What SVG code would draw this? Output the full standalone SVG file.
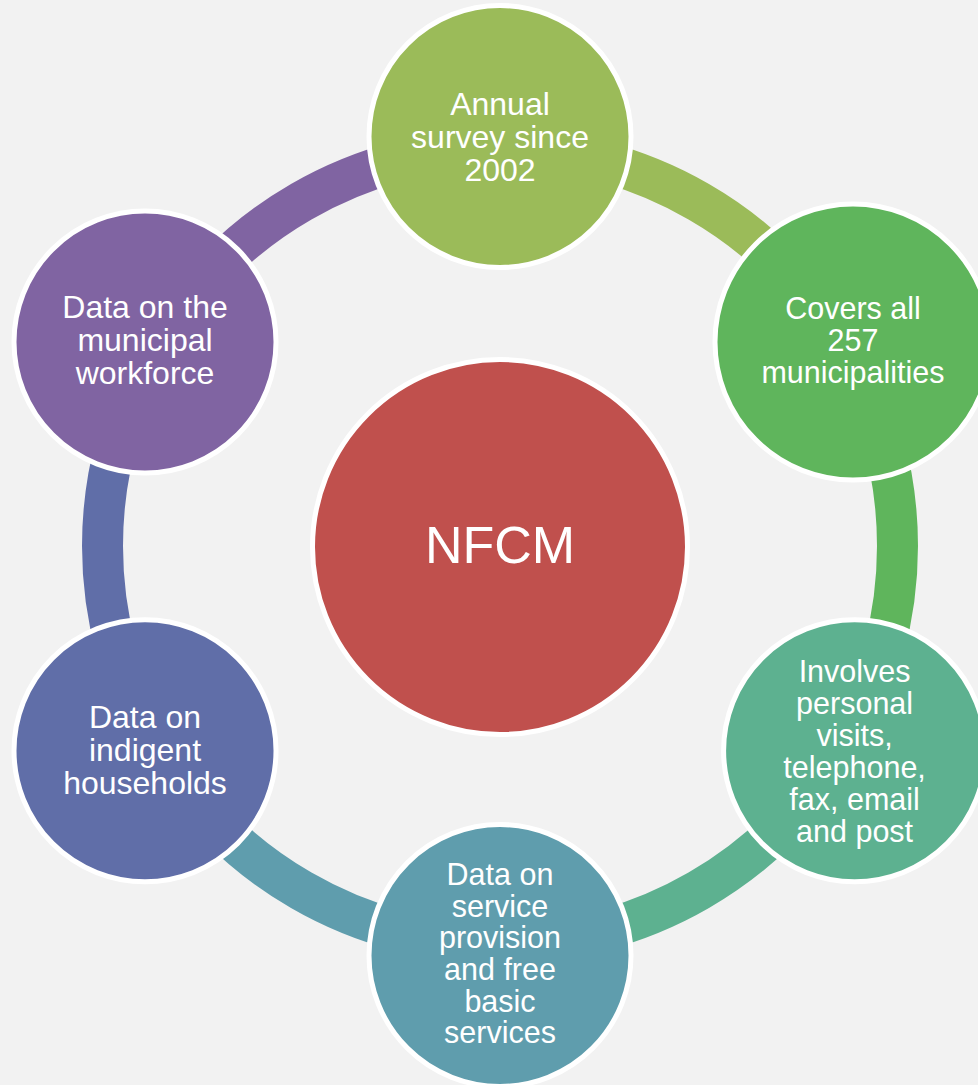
<svg xmlns="http://www.w3.org/2000/svg" width="978" height="1085" viewBox="0 0 978 1085">
<style>
.ring{fill:none;stroke-width:41;stroke-linecap:butt}
.node{stroke:#ffffff;stroke-width:5}
.lbl{fill:#ffffff;font-family:"Liberation Sans",Arial,sans-serif;font-size:30.5px;text-anchor:middle}
.lg{font-size:32px}
.big{fill:#ffffff;font-family:"Liberation Sans",Arial,sans-serif;font-size:52px;text-anchor:middle}
</style>
<rect x="0" y="0" width="978" height="1085" fill="#f2f2f2"/>
<g id="connectors">
<path class="ring" stroke="#9bbb59" d="M500 148.5 A397.5 397.5 0 0 1 844.24 347.25"/>
<path class="ring" stroke="#5fb55c" d="M844.24 347.25 A397.5 397.5 0 0 1 844.24 744.75"/>
<path class="ring" stroke="#5db190" d="M844.24 744.75 A397.5 397.5 0 0 1 500 943.5"/>
<path class="ring" stroke="#5f9dad" d="M500 943.5 A397.5 397.5 0 0 1 155.76 744.75"/>
<path class="ring" stroke="#606ea8" d="M155.76 744.75 A397.5 397.5 0 0 1 155.76 347.25"/>
<path class="ring" stroke="#8064a2" d="M155.76 347.25 A397.5 397.5 0 0 1 500 148.5"/>
</g>
<g id="center">
<circle class="node" cx="500" cy="547" r="187.5" fill="#c0504d"/>
<text class="big" x="500" y="563">NFCM</text>
</g>
<g id="node-top">
<circle class="node" cx="500" cy="136.5" r="131" fill="#9bbb59"/>
<text class="lbl lg" x="500" y="115">Annual</text>
<text class="lbl lg" x="500" y="148">survey since</text>
<text class="lbl lg" x="500" y="181">2002</text>
</g>
<g id="node-upper-right">
<circle class="node" cx="853" cy="342" r="138" fill="#5fb55c"/>
<text class="lbl" x="853" y="319">Covers all</text>
<text class="lbl" x="853" y="351">257</text>
<text class="lbl" x="853" y="383">municipalities</text>
</g>
<g id="node-lower-right">
<circle class="node" cx="854.6" cy="750.75" r="131" fill="#5db190"/>
<text class="lbl" x="854.6" y="682">Involves</text>
<text class="lbl" x="854.6" y="714">personal</text>
<text class="lbl" x="854.6" y="746">visits,</text>
<text class="lbl" x="854.6" y="778">telephone,</text>
<text class="lbl" x="854.6" y="810">fax, email</text>
<text class="lbl" x="854.6" y="842">and post</text>
</g>
<g id="node-bottom">
<circle class="node" cx="500" cy="955.5" r="131" fill="#5f9dad"/>
<text class="lbl" x="500" y="885">Data on</text>
<text class="lbl" x="500" y="917">service</text>
<text class="lbl" x="500" y="948">provision</text>
<text class="lbl" x="500" y="980">and free</text>
<text class="lbl" x="500" y="1012">basic</text>
<text class="lbl" x="500" y="1043">services</text>
</g>
<g id="node-lower-left">
<circle class="node" cx="145" cy="750.75" r="131" fill="#606ea8"/>
<text class="lbl lg" x="145" y="728">Data on</text>
<text class="lbl lg" x="145" y="761">indigent</text>
<text class="lbl lg" x="145" y="794">households</text>
</g>
<g id="node-upper-left">
<circle class="node" cx="145" cy="342" r="131" fill="#8064a2"/>
<text class="lbl lg" x="145" y="318">Data on the</text>
<text class="lbl lg" x="145" y="351">municipal</text>
<text class="lbl lg" x="145" y="384">workforce</text>
</g>
</svg>
